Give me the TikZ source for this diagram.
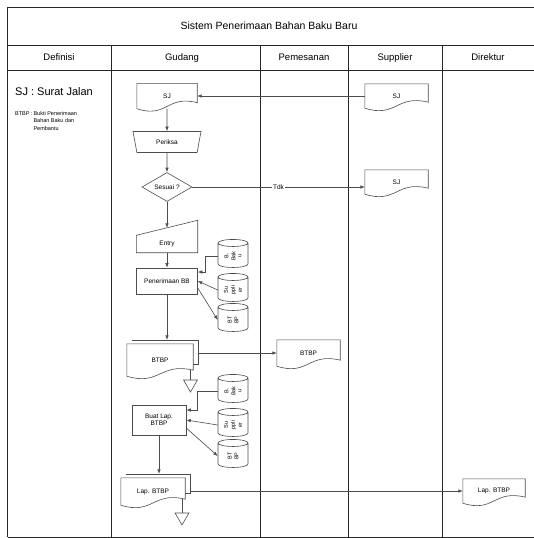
\documentclass[tikz,border=0pt]{standalone}
\usepackage{fontspec}
\setmainfont{Liberation Sans}
\usetikzlibrary{positioning, arrows.meta, shapes.geometric, calc}

\begin{document}
\begin{tikzpicture}[x=1pt, y=-1pt, node distance=45pt,
    lane/.style={draw=black!85, line width=0.9pt},
    flow/.style={draw=black!70, line width=0.6pt},
    arr/.style={flow, -{Latex[length=4.5pt, width=3.5pt]}},
    lbl/.style={font=\fontsize{6.5}{7.5}\selectfont, inner sep=1pt, align=center},
    hdr/.style={font=\fontsize{9.5}{10}\selectfont, text height=7pt, text depth=2pt},
    doc/.style={lbl, minimum width=62pt, minimum height=25pt,
        append after command={\pgfextra{\draw[flow]
            (\tikzlastnode.south west) -- (\tikzlastnode.north west)
            -- (\tikzlastnode.north east) -- ([yshift=6pt]\tikzlastnode.south east)
            .. controls ([yshift=14pt]\tikzlastnode.south) and ([yshift=-10pt]\tikzlastnode.south)
            .. (\tikzlastnode.south west);}}},
    mdoc/.style={doc,
        append after command={\pgfextra{\draw[flow]
            ([xshift=5pt, yshift=4pt]\tikzlastnode.north west)
            -- ([xshift=5pt, yshift=4pt]\tikzlastnode.north east)
            -- ([xshift=5pt, yshift=12pt]\tikzlastnode.south east)
            -- ([yshift=12pt]\tikzlastnode.south east);}}},
    manin/.style={lbl, minimum width=61pt, minimum height=17pt,
        append after command={\pgfextra{\draw[flow]
            (\tikzlastnode.south west) -- (\tikzlastnode.north west)
            -- ([yshift=15pt]\tikzlastnode.north east) -- (\tikzlastnode.south east) -- cycle;}}},
    manop/.style={flow, lbl, trapezium, trapezium angle=60, trapezium stretches body,
        shape border rotate=180, minimum width=68pt, minimum height=21pt},
    decide/.style={flow, lbl, diamond, aspect=1.7, minimum width=50pt, minimum height=29pt, inner sep=0pt},
    proc/.style={flow, lbl, rectangle, minimum width=61pt, minimum height=26pt},
    dbase/.style={flow, cylinder, shape border rotate=90, aspect=0.25, minimum width=30pt,
        minimum height=28pt, text width=26pt, align=center, inner sep=1pt,
        font=\fontsize{5.5}{6}\selectfont},
    store/.style={flow, regular polygon, regular polygon sides=3, shape border rotate=180,
        minimum size=16pt, inner sep=0pt}]

    \useasboundingbox (0,0) rectangle (534,538);

    % lanes
    \draw[lane] (7.5,537) -- (7.5,7.5) -- (534,7.5);
    \draw[lane] (7.5,45) -- (534,45);
    \draw[lane] (7.5,70) -- (534,70);
    \draw[lane] (7.5,537) -- (534,537);
    \foreach \x in {111,260,348,442}
        \draw[lane] (\x,45) -- (\x,537);

    \node[font=\fontsize{10.5}{12}\selectfont] (title) at (269,26) {Sistem Penerimaan Bahan Baku Baru};
    \node[hdr] (hDefinisi) at (59,57.5) {Definisi};
    \node[hdr] (hGudang) at (182,57.5) {Gudang};
    \node[hdr] (hPemesanan) at (304,57.5) {Pemesanan};
    \node[hdr] (hSupplier) at (395,57.5) {Supplier};
    \node[hdr] (hDirektur) at (488,57.5) {Direktur};

    % definisi
    \node[anchor=west, font=\fontsize{11}{12}\selectfont, inner sep=0pt] (defSJ) at (15,92) {SJ : Surat Jalan};
    \node[anchor=north west, font=\fontsize{5.5}{7.5}\selectfont, inner sep=0pt] (defBTBP) at (15,110)
        {\begin{tabular}{@{}l@{\,}l@{}}BTBP : & Bukti Penerimaan\\ & Bahan Baku dan\\ & Pembantu\end{tabular}};

    % gudang
    \node[doc, minimum width=60pt] (sjG) at (167,96) {SJ};
    \node[manop, below of=sjG, node distance=46pt] (periksa) {Periksa};
    \node[decide, below of=periksa] (sesuai) {Sesuai ?};
    \node[manin, below of=sesuai, node distance=57pt] (entry) {Entry};
    \node[proc, below of=entry, node distance=37pt] (terima) {Penerimaan BB};
    \node[mdoc, minimum width=66pt, minimum height=32pt] (btbpG) at (160,360) {BTBP};
    \node[store] (fileA) at (190.5,384) {};
    \node[proc, minimum width=54pt, minimum height=30pt] (buatlap) at (159,420) {Buat Lap.\\BTBP};
    \node[mdoc, minimum width=64pt, minimum height=27pt] (lapG) at (153,491.5) {Lap. BTBP};
    \node[store] (fileB) at (182,517) {};

    \node[dbase] (bb1) at (233,256) {\rotatebox{90}{\shortstack{B.\\Bak\\u}}};
    \node[dbase] (sup1) at (233,290) {\rotatebox{90}{\shortstack{Su\\ppli\\er}}};
    \node[dbase] (bt1) at (233,320) {\rotatebox{90}{\shortstack{BT\\BP}}};
    \node[dbase] (bb2) at (233,391) {\rotatebox{90}{\shortstack{B.\\Bak\\u}}};
    \node[dbase] (sup2) at (233,425) {\rotatebox{90}{\shortstack{Su\\ppli\\er}}};
    \node[dbase] (bt2) at (233,456) {\rotatebox{90}{\shortstack{BT\\BP}}};

    % pemesanan, supplier, direktur
    \node[doc, minimum width=63pt, minimum height=26pt] (pesBTBP) at (308.5,353) {BTBP};
    \node[doc, minimum width=63pt, minimum height=24pt] (supSJ1) at (396.5,96) {SJ};
    \node[doc, minimum width=63pt, minimum height=24pt] (supSJ2) at (396.5,182) {SJ};
    \node[doc, minimum width=62pt, minimum height=24pt] (dirLap) at (494,491) {Lap. BTBP};

    % flows
    \draw[arr] (supSJ1.west) -- (sjG.east);
    \draw[arr] (sjG.south) -- (periksa.north);
    \draw[arr] (periksa) -- (sesuai);
    \draw[arr] (sesuai) -- ([yshift=7.5pt]entry.north);
    \draw[arr] (sesuai.east) -- node[lbl, fill=white, anchor=center] (tdk) {Tdk} (sesuai.east -| supSJ2.west);
    \draw[arr] (entry) -- (terima);
    \draw[arr] (bb1.west) -- ++(-12,0) |- ([yshift=9pt]terima.east);
    \draw[arr] (sup1.west) -- (terima.east);
    \draw[arr] ([yshift=-7pt]terima.east) -- (bt1.west);
    \draw[arr] (terima) -- ([yshift=4pt]terima.south |- btbpG.north);
    \draw[arr] ([xshift=5pt]btbpG.east |- pesBTBP.west) -- (pesBTBP.west);
    \draw[flow] (fileA.north) -- ([yshift=6pt]fileA.north |- btbpG.south);

    \draw[arr] (bb2.west) -- ++(-20,0) |- ([yshift=10pt]buatlap.east);
    \draw[arr] (sup2.west) -- (buatlap.east);
    \draw[arr] ([yshift=-8pt]buatlap.east) -- (bt2.west);
    \draw[arr] (buatlap) -- ([yshift=4pt]buatlap.south |- lapG.north);
    \draw[arr] ([xshift=5pt]lapG.east |- dirLap.west) -- (dirLap.west);
    \draw[flow] (fileB.north) -- ([yshift=6pt]fileB.north |- lapG.south);
\end{tikzpicture}
\end{document}
